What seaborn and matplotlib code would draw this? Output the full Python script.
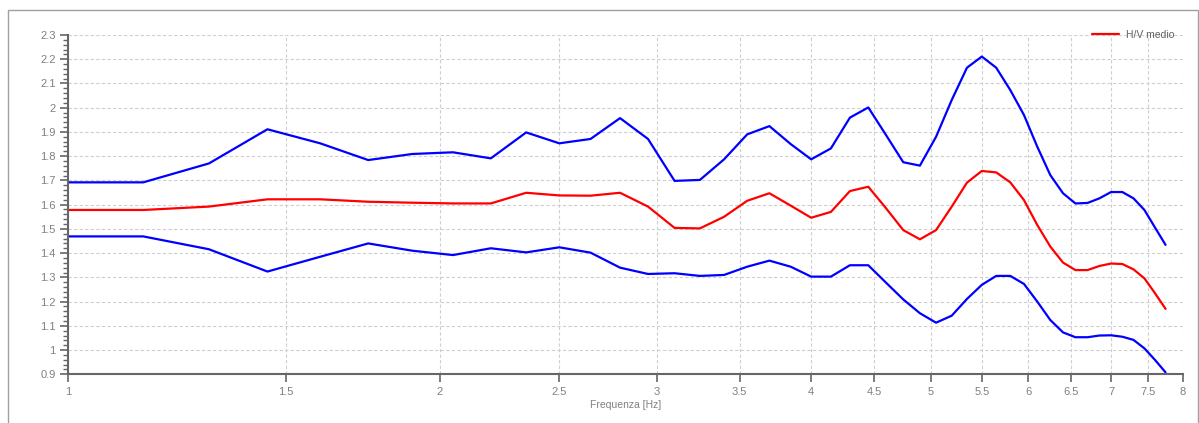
import seaborn as sns
import pandas as pd
import matplotlib.pyplot as plt
import matplotlib.patches as patches
from matplotlib.ticker import MultipleLocator, NullLocator, FixedLocator

# H/V curve sampled every 0.15 Hz
freq_hz = [1.00, 1.15, 1.30, 1.45, 1.60, 1.75, 1.90, 2.05, 2.20, 2.35,
           2.50, 2.65, 2.80, 2.95, 3.10, 3.25, 3.40, 3.55, 3.70, 3.85,
           4.00, 4.15, 4.30, 4.45, 4.60, 4.75, 4.90, 5.05, 5.20, 5.35,
           5.50, 5.65, 5.80, 5.95, 6.10, 6.25, 6.40, 6.55, 6.70, 6.85,
           7.00, 7.15, 7.30, 7.45, 7.60, 7.75]

hv_upper = [1.692, 1.692, 1.770, 1.911, 1.853, 1.784, 1.809, 1.816, 1.791, 1.898,
            1.853, 1.871, 1.957, 1.871, 1.698, 1.702, 1.787, 1.890, 1.924, 1.850,
            1.787, 1.832, 1.959, 2.001, 1.887, 1.775, 1.761, 1.880, 2.032, 2.165,
            2.211, 2.165, 2.073, 1.970, 1.839, 1.722, 1.647, 1.605, 1.607, 1.626,
            1.652, 1.652, 1.626, 1.578, 1.505, 1.434]

hv_mean = [1.578, 1.578, 1.592, 1.622, 1.622, 1.612, 1.608, 1.605, 1.605, 1.649,
           1.638, 1.637, 1.649, 1.592, 1.504, 1.502, 1.550, 1.616, 1.647, 1.596,
           1.546, 1.570, 1.656, 1.674, 1.585, 1.495, 1.457, 1.495, 1.592, 1.691,
           1.739, 1.733, 1.692, 1.619, 1.516, 1.427, 1.361, 1.330, 1.330, 1.347,
           1.357, 1.355, 1.333, 1.296, 1.234, 1.170]

hv_lower = [1.469, 1.469, 1.416, 1.324, 1.385, 1.440, 1.410, 1.392, 1.420, 1.403,
            1.424, 1.402, 1.340, 1.314, 1.317, 1.306, 1.310, 1.344, 1.369, 1.344,
            1.303, 1.303, 1.350, 1.350, 1.278, 1.209, 1.152, 1.113, 1.142, 1.211,
            1.269, 1.306, 1.306, 1.273, 1.200, 1.124, 1.073, 1.053, 1.053, 1.060,
            1.061, 1.055, 1.042, 1.007, 0.959, 0.908]

x_ticks = [1, 1.5, 2, 2.5, 3, 3.5, 4, 4.5, 5, 5.5, 6, 6.5, 7, 7.5, 8]
y_ticks = [0.9, 1.0, 1.1, 1.2, 1.3, 1.4, 1.5, 1.6, 1.7, 1.8, 1.9, 2.0, 2.1, 2.2, 2.3]

df = pd.DataFrame({"freq": freq_hz, "upper": hv_upper, "mean": hv_mean, "lower": hv_lower})

sns.set_style("white")
plt.rcParams["font.family"] = ["Liberation Sans", "DejaVu Sans"]

fig = plt.figure(figsize=(11.99, 4.23), dpi=100)
ax = fig.add_axes([0.057, 0.1151, 0.9293, 0.8022])

sns.lineplot(data=df, x="freq", y="upper", color="#0000ff", lw=1.6, ax=ax)
sns.lineplot(data=df, x="freq", y="lower", color="#0000ff", lw=1.6, ax=ax)
sns.lineplot(data=df, x="freq", y="mean", color="#ff0000", lw=1.6, ax=ax, label="H/V medio")

ax.set_xscale("log")
ax.set_xlim(1, 8)
ax.set_ylim(0.9, 2.3)
ax.xaxis.set_major_locator(FixedLocator(x_ticks))
ax.xaxis.set_minor_locator(NullLocator())
ax.set_xticklabels([f"{v:g}" for v in x_ticks])
ax.yaxis.set_major_locator(FixedLocator(y_ticks))
ax.set_yticklabels([f"{v:g}" for v in y_ticks])
ax.yaxis.set_minor_locator(MultipleLocator(0.02))

ax.grid(True, which="major", color="#cfcfcf", linestyle=(0, (3, 2)), lw=0.8)
for side in ["top", "right"]:
    ax.spines[side].set_visible(False)
for side in ["left", "bottom"]:
    ax.spines[side].set_color("#666666")
    ax.spines[side].set_linewidth(1.5)

ax.tick_params(axis="both", which="major", length=6, width=1.2, color="#666666",
               labelcolor="#808080", labelsize=8, pad=3, left=True, bottom=True)
ax.tick_params(axis="y", which="minor", length=3.5, width=1, color="#666666", left=True)

ax.set_xlabel("Frequenza [Hz]", fontsize=7.5, color="#808080", labelpad=2)
ax.set_ylabel("")

ax.legend(loc="center right", bbox_to_anchor=(0.997, 1.0), frameon=False, fontsize=7.5,
          handlelength=2.6, handletextpad=0.6, borderpad=0, labelcolor="#606060")

# outer frame of the panel
fig.add_artist(patches.Rectangle((8 / 1199, -0.05), 1190 / 1199, 1.0257,
                                 transform=fig.transFigure, fill=False,
                                 edgecolor="#a0a0a0", lw=1))

fig.savefig("out.png", dpi=100)
